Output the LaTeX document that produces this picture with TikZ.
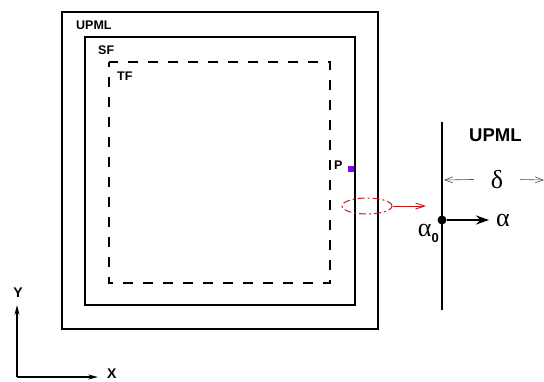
\documentclass[tikz,border=0pt]{standalone}
\usepackage{fontspec}
\setsansfont{Liberation Sans}
\newfontfamily\grkfont{Liberation Serif}
\usetikzlibrary{arrows.meta,shapes.geometric}

\begin{document}
\begin{tikzpicture}[x=1pt, y=-1pt, line join=miter, every node/.style={inner sep=1pt},
    wall/.style={line width=1.6pt},
    lbl/.style={font=\sffamily\bfseries\fontsize{12.5}{14}\selectfont, anchor=base west},
    grk/.style={font=\grkfont\fontsize{26}{28}\selectfont},
    dim/.style={gray!60!black, line width=0.6pt, -{Straight Barb[length=8pt, width=6pt]}},
    axis/.style={line width=1.3pt, -{Stealth[length=10pt, width=5pt]}}]
    \definecolor{pmlRed}{RGB}{210,20,20}
    \definecolor{ptViolet}{RGB}{130,0,255}
    \useasboundingbox (0,0) rectangle (544,381);
    % ==== nested regions: UPML, SF, TF ====
    \draw[wall] (62,12) rectangle (378,329);
    \draw[wall] (85,37) rectangle (355,305);
    \draw[wall, dash pattern=on 10pt off 10pt, dash phase=5pt] (109,62) rectangle (330,283);
    \node[lbl] (upmlIn) at (75,29) {UPML};
    \node[lbl] (sfLbl) at (97,54) {SF};
    \node[lbl] (tfLbl) at (116,80) {TF};
    % observation point
    \node[lbl] (pLbl) at (333,169) {P};
    \fill[ptViolet] (348,166) rectangle (354,172);
    % ==== zoomed interface ====
    \node[draw=pmlRed, line width=1pt, ellipse, minimum width=50pt, minimum height=16pt,
      dash pattern=on 7pt off 3pt on 2pt off 3pt] (probe) at (367,206) {};
    \coordinate (probeTip) at (426,206);
    \draw[pmlRed, line width=0.9pt, -{Straight Barb[length=9pt, width=6pt]}] (probe.east) -- (probeTip);
    \coordinate (wallTop) at (442,122);
    \coordinate (wallBot) at (442,310);
    \draw[wall] (wallTop) -- (wallBot);
    \node[lbl, font=\sffamily\bfseries\fontsize{18.5}{20}\selectfont] (upmlOut) at (468,141) {UPML};
    \node[circle, fill, inner sep=0pt, minimum size=9pt] (a0) at (442,220) {};
    \coordinate (aTip) at (489,220);
    \draw[line width=2pt, -{Stealth[length=13pt, width=9pt]}] (a0) -- (aTip);
    \node[grk, anchor=base west] (alpha) at (495,226) {α};
    \node[grk, anchor=base east] (alphaZero) at (440,236)
      {α\raisebox{-6pt}{\sffamily\bfseries\fontsize{13}{13}\selectfont 0}};
    % thickness of the layer
    \node[grk, anchor=base] (delta) at (497,188) {δ};
    \coordinate (dL) at (444,180);
    \coordinate (dR) at (544,180);
    \draw[dim, shorten <=16pt] (delta) -- (dL);
    \draw[dim, shorten <=16pt] (delta) -- (dR);
    % ==== axes ====
    \coordinate (orig) at (17,377);
    \coordinate (yTip) at (17,305);
    \coordinate (xTip) at (98,377);
    \draw[axis] (orig) -- (yTip);
    \draw[axis] (orig) -- (xTip);
    \node[lbl, font=\sffamily\bfseries\fontsize{14}{16}\selectfont, anchor=base] (yLbl) at (18,297) {Y};
    \node[lbl, font=\sffamily\bfseries\fontsize{14}{16}\selectfont, anchor=base west] (xLbl) at (106,378) {X};
\end{tikzpicture}
\end{document}
